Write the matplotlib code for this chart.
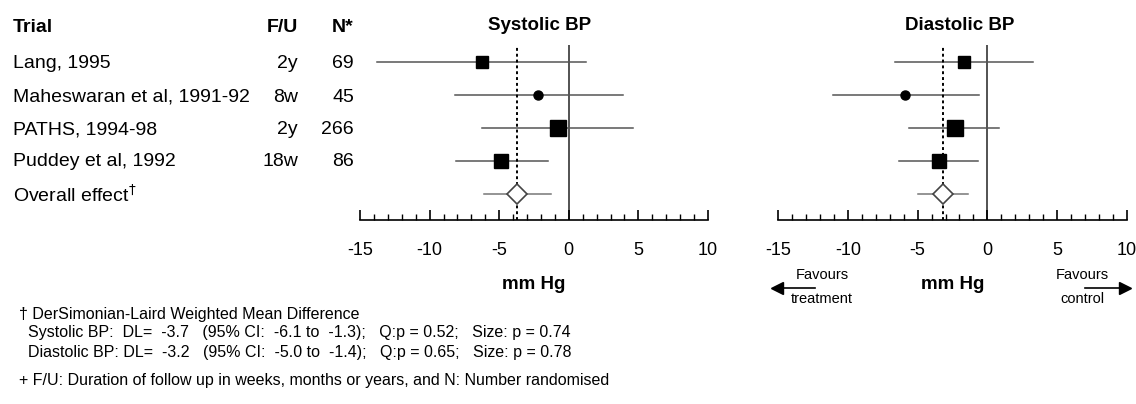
import matplotlib.pyplot as plt

plt.rcParams['font.family'] = ['Liberation Sans', 'DejaVu Sans']
plt.rcParams['axes.unicode_minus'] = False

W, H = 1136, 404

# data
trials = ['Lang, 1995', 'Maheswaran et al, 1991-92', 'PATHS, 1994-98', 'Puddey et al, 1992']
followup = ['2y', '8w', '2y', '18w']
n_rand = ['69', '45', '266', '86']
marker_sizes = [8.5, 6.5, 12, 10.5]
marker_shapes = ['s', 'o', 's', 's']

sys_mean = [-6.2, -2.2, -0.8, -4.85]
sys_lo = [-13.8, -8.2, -6.2, -8.1]
sys_hi = [1.2, 3.9, 4.6, -1.5]
sys_overall = (-3.7, -6.1, -1.3)

dia_mean = [-1.7, -5.9, -2.3, -3.5]
dia_lo = [-6.6, -11.05, -5.6, -6.3]
dia_hi = [3.3, -0.6, 0.8, -0.7]
dia_overall = (-3.2, -5.0, -1.4)


def fx(x):
    return x / W


def fy(y):
    return 1 - y / H


fig = plt.figure(figsize=(W / 100, H / 100), dpi=100)


def forest(left, right, mean, lo, hi, overall):
    ax = fig.add_axes([fx(left), fy(220), fx(right - left), (220 - 45) / H])
    for i in range(len(mean)):
        ax.plot([lo[i], hi[i]], [i, i], color='#555555', lw=1.1, zorder=2)
        ax.plot(mean[i], i, marker=marker_shapes[i], ms=marker_sizes[i],
                color='black', zorder=4)
    k = len(mean)
    ax.plot([overall[1], overall[2]], [k, k], color='#777777', lw=1.1, zorder=2)
    ax.plot(overall[0], k, marker='D', ms=10, mfc='white', mec='#444444',
            mew=1.2, zorder=4)
    ax.axvline(0, color='#444444', lw=1.3, zorder=1)
    ax.axvline(overall[0], color='black', lw=1.4, ls=(0, (1.5, 1.5)), zorder=3)
    ax.set_xlim(-15, 10)
    ax.set_ylim(4.79, -0.52)
    for s in ['top', 'right', 'left']:
        ax.spines[s].set_visible(False)
    ax.spines['bottom'].set_linewidth(1.2)
    ax.set_yticks([])
    ax.set_xticks([-15, -10, -5, 0, 5, 10])
    ax.set_xticks(range(-15, 11), minor=True)
    ax.tick_params(axis='x', which='major', direction='in', length=7, width=1.2,
                   labelsize=13, pad=16)
    ax.tick_params(axis='x', which='minor', direction='in', length=4, width=1)
    ax.set_xlabel('mm Hg', fontsize=13.5, fontweight='bold', labelpad=12)
    return ax


ax1 = forest(360, 708, sys_mean, sys_lo, sys_hi, sys_overall)
ax2 = forest(778, 1127, dia_mean, dia_lo, dia_hi, dia_overall)
fig.text(fx(540), fy(25), 'Systolic BP', fontsize=13.5, fontweight='bold', ha='center', va='center')
fig.text(fx(960), fy(25), 'Diastolic BP', fontsize=13.5, fontweight='bold', ha='center', va='center')

# left table
fs_row = 14
fig.text(fx(13), fy(25), 'Trial', fontsize=fs_row, fontweight='bold', va='center_baseline')
fig.text(fx(298), fy(25), 'F/U', fontsize=fs_row, fontweight='bold', va='center_baseline', ha='right')
fig.text(fx(354), fy(25), 'N*', fontsize=fs_row, fontweight='bold', va='center_baseline', ha='right')
rows_y = [62, 95, 128, 160]
for i in range(len(trials)):
    fig.text(fx(13), fy(rows_y[i]), trials[i], fontsize=fs_row, va='center_baseline')
    fig.text(fx(298), fy(rows_y[i]), followup[i], fontsize=fs_row, va='center_baseline', ha='right')
    fig.text(fx(354), fy(rows_y[i]), n_rand[i], fontsize=fs_row, va='center_baseline', ha='right')
fig.text(fx(13), fy(193), 'Overall effect$^{\\dagger}$', fontsize=fs_row, va='center_baseline')

# favours labels
fig.text(fx(822), fy(275), 'Favours', fontsize=10.5, ha='center', va='center')
fig.text(fx(822), fy(299), 'treatment', fontsize=10.5, ha='center', va='center')
fig.text(fx(1082), fy(275), 'Favours', fontsize=10.5, ha='center', va='center')
fig.text(fx(1082), fy(299), 'control', fontsize=10.5, ha='center', va='center')
fig.add_artist(plt.Line2D([fx(776), fx(815)], [fy(288), fy(288)], color='black', lw=1.2))
fig.add_artist(plt.Line2D([fx(1085), fx(1125)], [fy(288), fy(288)], color='black', lw=1.2))
fig.add_artist(plt.Line2D([fx(777)], [fy(288)], marker='<', ms=8, color='black'))
fig.add_artist(plt.Line2D([fx(1125)], [fy(288)], marker='>', ms=8, color='black'))

# footnotes
fs = 11.5
fig.text(fx(19), fy(315), '\u2020 DerSimonian-Laird Weighted Mean Difference', fontsize=fs, va='center')
fig.text(fx(28), fy(333), 'Systolic BP:  DL=  -3.7   (95% CI:  -6.1 to  -1.3);   Q:p = 0.52;   Size: p = 0.74',
         fontsize=fs, va='center')
fig.text(fx(28), fy(353), 'Diastolic BP: DL=  -3.2   (95% CI:  -5.0 to  -1.4);   Q:p = 0.65;   Size: p = 0.78',
         fontsize=fs, va='center')
fig.text(fx(19), fy(381), '+ F/U: Duration of follow up in weeks, months or years, and N: Number randomised',
         fontsize=fs, va='center')

fig.savefig('out.png', dpi=100)
